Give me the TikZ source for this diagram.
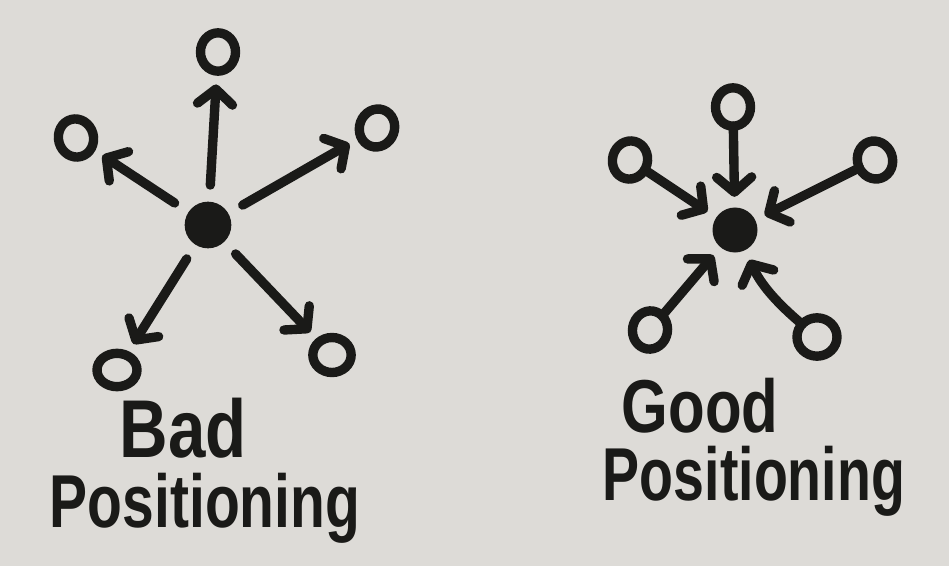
\documentclass[tikz,border=0pt]{standalone}
\usepackage{fontspec}
\setmainfont{Liberation Sans}
\usetikzlibrary{arrows.meta,shapes.geometric}
\definecolor{paper}{RGB}{221,219,215}
\definecolor{ink}{RGB}{26,26,24}
\tikzset{
  hub/.style={circle,fill=ink,inner sep=0pt,outer sep=0pt,minimum size=1.4cm},
  leaf/.style={ellipse,draw=ink,line width=8pt,inner sep=0pt,outer sep=0pt,minimum width=1.05cm,minimum height=1.15cm},
  arr/.style={draw=ink,line width=8pt,line cap=round,
    -{Straight Barb[length=0.45cm,width=1.05cm,round]}},
  outarr/.style={arr,shorten <=0.5cm,shorten >=0.4cm},
  inarr/.style={arr,shorten >=0.32cm},
  label/.style={text=ink,anchor=base,inner sep=0pt,font=\fontsize{64}{70}\bfseries\selectfont}
}
\begin{document}
\begin{tikzpicture}[x=0.03cm,y=-0.03cm]
\fill[paper] (0,0) rectangle (949,566);
\useasboundingbox (0,0) rectangle (949,566);
% Bad positioning
\node[hub] (lc) at (208,225) {};
\node[leaf] (lt) at (218,52) {};
\node[leaf,rotate=15] (ltl) at (76,138) {};
\node[leaf,rotate=-20] (ltr) at (377,128) {};
\node[leaf,minimum width=1.2cm,minimum height=1.0cm] (lbl) at (117,370) {};
\node[leaf,minimum width=1.15cm,minimum height=1.05cm] (lbr) at (332,355) {};
\draw[outarr] (lc) -- (lt);
\draw[outarr] (lc) -- (ltl);
\draw[outarr] (lc) -- (ltr);
\draw[outarr] (lc) -- (lbl);
\draw[outarr] (lc) -- (lbr);
% Good positioning
\node[hub,minimum size=1.35cm] (rc) at (735,230) {};
\node[leaf] (rt) at (733,107) {};
\node[leaf,rotate=-15] (rl) at (630,160) {};
\node[leaf,rotate=20] (rr) at (875,160) {};
\node[leaf,rotate=-10] (rbl) at (650,330) {};
\node[leaf,minimum width=1.2cm,minimum height=1.15cm] (rbr) at (817,337) {};
\draw[inarr] (rt) -- (rc);
\draw[inarr] (rl) -- (rc);
\draw[inarr] (rr) -- (rc);
\draw[inarr] (rbl) -- (rc);
\draw[inarr] (rbr) to[bend left=12] (rc);
% labels
\node[label,font=\fontsize{70}{76}\bfseries\selectfont] (bad) at (183,457) {\scalebox{0.82}[1]{Bad}};
\node[label] (lpos) at (205,527) {\scalebox{0.76}[1]{Positioning}};
\node[label] (good) at (700,432) {\scalebox{0.8}[1]{Good}};
\node[label] (rpos) at (754,500) {\scalebox{0.74}[1]{Positioning}};
\end{tikzpicture}
\end{document}
